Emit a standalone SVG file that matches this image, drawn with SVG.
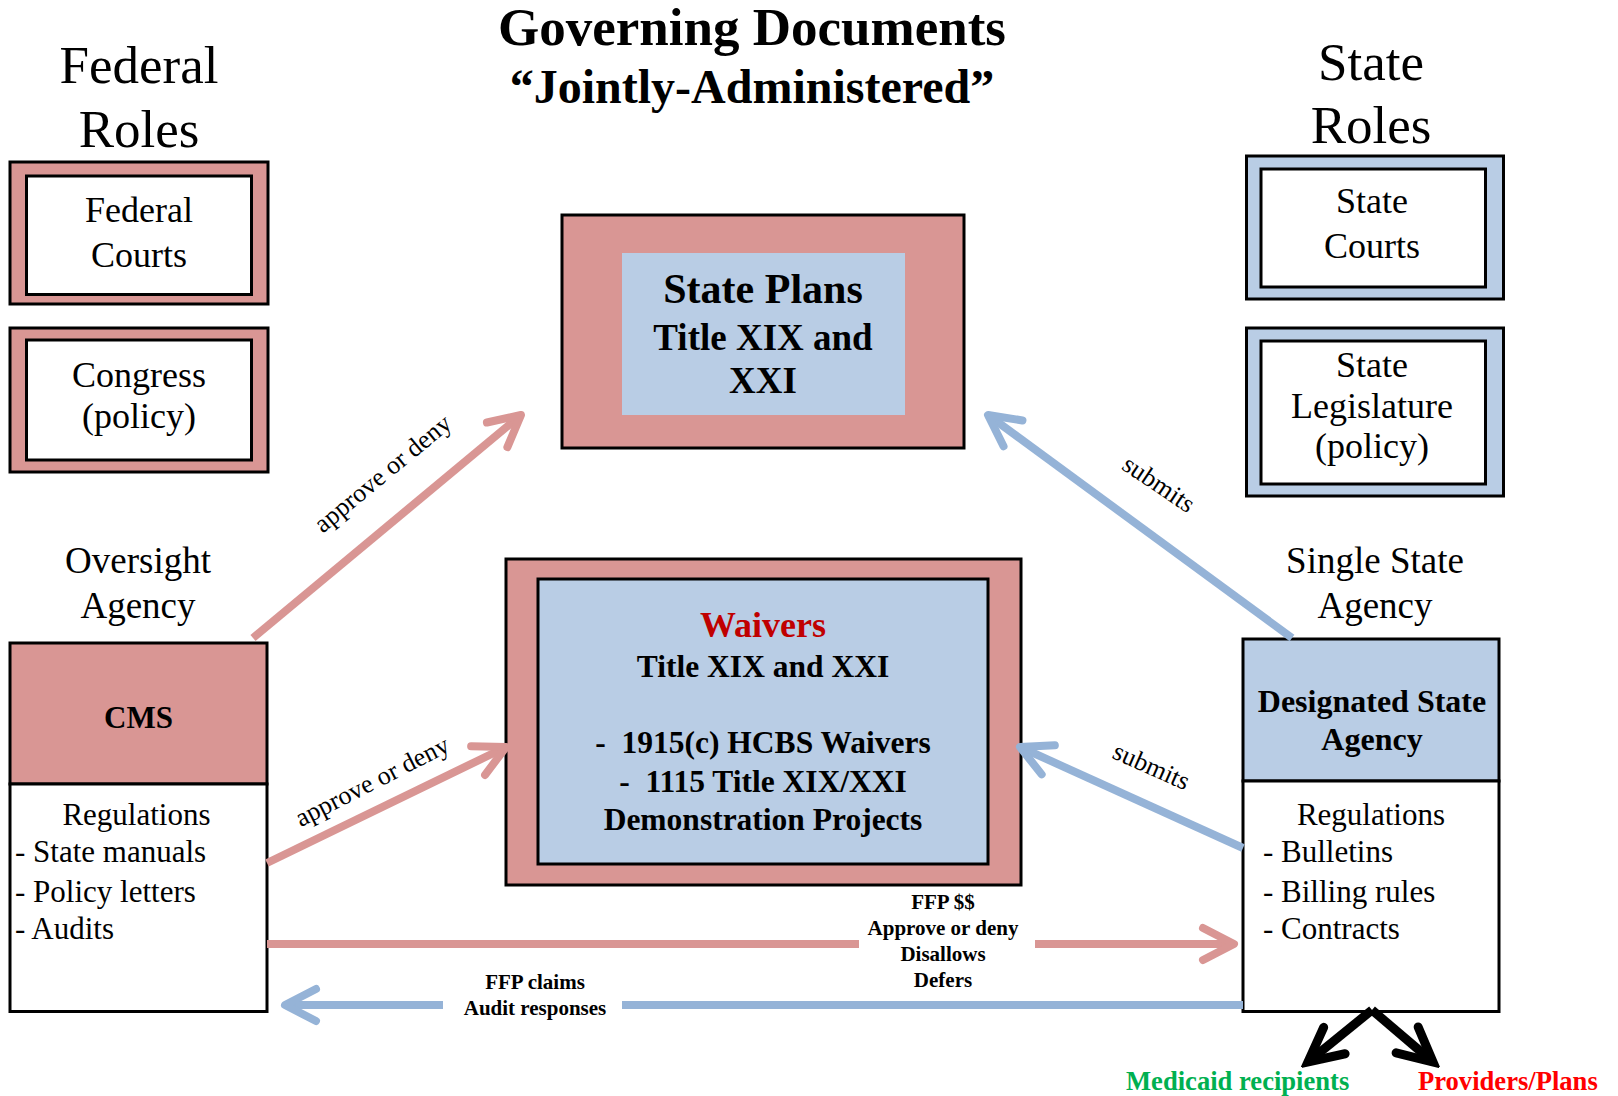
<svg xmlns="http://www.w3.org/2000/svg" width="1618" height="1096" viewBox="0 0 1618 1096">
<style>
text{font-family:"Liberation Serif","Times New Roman",serif;fill:#000}
.c{text-anchor:middle}
.b{font-weight:bold}
.role{font-size:53px}
.box{font-size:36px}
.agency{font-size:37px}
.reg{font-size:31px}
.lab{font-size:26px}
.small{font-size:21px;font-weight:bold}
.pink{fill:#D99694;stroke:#000;stroke-width:3}
.blue{fill:#B9CDE5;stroke:#000;stroke-width:3}
.white{fill:#fff;stroke:#000;stroke-width:3}
.ap{fill:none;stroke:#D99694;stroke-width:8}
.ab{fill:none;stroke:#95B3D7;stroke-width:8}
.ak{fill:none;stroke:#000;stroke-width:9}
.pre{white-space:pre}
</style>
<defs>
<marker id="mPink" viewBox="-40 -24 48 48" refX="0" refY="0" markerWidth="48" markerHeight="48" markerUnits="userSpaceOnUse" orient="auto">
<path d="M-31,-16 L0,0 L-31,16" fill="none" stroke="#D99694" stroke-width="8" stroke-linecap="round" stroke-linejoin="round"/>
</marker>
<marker id="mBlue" viewBox="-40 -24 48 48" refX="0" refY="0" markerWidth="48" markerHeight="48" markerUnits="userSpaceOnUse" orient="auto">
<path d="M-31,-16 L0,0 L-31,16" fill="none" stroke="#95B3D7" stroke-width="8" stroke-linecap="round" stroke-linejoin="round"/>
</marker>
<marker id="mBlack" viewBox="-44 -26 52 52" refX="0" refY="0" markerWidth="52" markerHeight="52" markerUnits="userSpaceOnUse" orient="auto">
<path d="M-34,-17 L0,0 L-34,17" fill="none" stroke="#000" stroke-width="9" stroke-linecap="round" stroke-linejoin="miter"/>
</marker>
</defs>
<rect x="0" y="0" width="1618" height="1096" fill="#fff"/>

<g id="title">
<text class="c b" x="752" y="45" font-size="53">Governing Documents</text>
<text class="c b" x="752" y="103" font-size="48">“Jointly-Administered”</text>
</g>

<g id="federal-roles-label">
<text class="c role" x="139" y="83">Federal</text>
<text class="c role" x="139" y="147">Roles</text>
</g>

<g id="federal-courts">
<rect class="pink" x="10" y="162" width="258" height="142"/>
<rect class="white" x="26.5" y="176" width="225" height="118.5"/>
<text class="c box" x="139" y="222">Federal</text>
<text class="c box" x="139" y="267">Courts</text>
</g>

<g id="congress">
<rect class="pink" x="10" y="328" width="258" height="144"/>
<rect class="white" x="26.5" y="340" width="225" height="120"/>
<text class="c box" x="139" y="387">Congress</text>
<text class="c box" x="139" y="428">(policy)</text>
</g>

<g id="state-roles-label">
<text class="c role" x="1371" y="80">State</text>
<text class="c role" x="1371" y="143">Roles</text>
</g>

<g id="state-courts">
<rect class="blue" x="1246.5" y="156" width="257" height="143"/>
<rect class="white" x="1261" y="169" width="224.5" height="118"/>
<text class="c box" x="1372" y="213">State</text>
<text class="c box" x="1372" y="258">Courts</text>
</g>

<g id="state-legislature">
<rect class="blue" x="1246.5" y="328" width="257" height="168"/>
<rect class="white" x="1261" y="341" width="224.5" height="143"/>
<text class="c box" x="1372" y="377">State</text>
<text class="c box" x="1372" y="418">Legislature</text>
<text class="c box" x="1372" y="458">(policy)</text>
</g>

<g id="state-plans">
<rect class="pink" x="562" y="215" width="402" height="233"/>
<rect x="622" y="253" width="283" height="162" fill="#B9CDE5"/>
<text class="c b" x="763" y="303" font-size="42">State Plans</text>
<text class="c b" x="763" y="350" font-size="37">Title XIX and</text>
<text class="c b" x="763" y="393" font-size="37">XXI</text>
</g>

<g id="oversight-label">
<text class="c agency" x="138" y="573">Oversight</text>
<text class="c agency" x="138" y="618">Agency</text>
</g>

<g id="cms">
<rect class="pink" x="10" y="643" width="257" height="141"/>
<rect class="white" x="10" y="784" width="257" height="227.5"/>
<text class="c b" x="138.5" y="728" font-size="31">CMS</text>
<text class="c reg" x="136.5" y="824.5">Regulations</text>
<text class="reg" x="15" y="862">- State manuals</text>
<text class="reg" x="15" y="901.5">- Policy letters</text>
<text class="reg" x="15" y="939">- Audits</text>
</g>

<g id="waivers">
<rect class="pink" x="506" y="559" width="515" height="326"/>
<rect class="blue" x="538" y="579" width="450" height="285"/>
<text class="c b" x="763" y="637" font-size="36" style="fill:#C00000">Waivers</text>
<text class="c b" x="763" y="677" font-size="31.5">Title XIX and XXI</text>
<text class="c b pre" x="763" y="753" font-size="31.5">-  1915(c) HCBS Waivers</text>
<text class="c b pre" x="763" y="792" font-size="31.5">-  1115 Title XIX/XXI</text>
<text class="c b" x="763" y="830" font-size="31.5">Demonstration Projects</text>
</g>

<g id="single-state-label">
<text class="c agency" x="1375" y="573">Single State</text>
<text class="c agency" x="1375" y="618">Agency</text>
</g>

<g id="designated-state-agency">
<rect class="blue" x="1243" y="639" width="256" height="142"/>
<rect class="white" x="1243" y="781" width="256" height="230.5"/>
<text class="c b" x="1372" y="712" font-size="32">Designated State</text>
<text class="c b" x="1372" y="750" font-size="32">Agency</text>
<text class="c reg" x="1371" y="824.5">Regulations</text>
<text class="reg" x="1263" y="862">- Bulletins</text>
<text class="reg" x="1263" y="901.5">- Billing rules</text>
<text class="reg" x="1263" y="939">- Contracts</text>
</g>

<g id="medicaid-recipients">
<text class="b" x="1126" y="1090" font-size="26.6" style="fill:#00B050">Medicaid recipients</text>
</g>

<g id="providers-plans">
<text class="b" x="1418" y="1090" font-size="26.6" style="fill:#FF0000">Providers/Plans</text>
</g>

<g id="connectors">
<path class="ap" d="M253,638 L521,415" marker-end="url(#mPink)"/>
<path class="ap" d="M267,863 L506,747" marker-end="url(#mPink)"/>
<path class="ab" d="M1292,638 L988,415" marker-end="url(#mBlue)"/>
<path class="ab" d="M1243,848 L1020,747" marker-end="url(#mBlue)"/>
<path class="ap" d="M267,944 L859,944"/>
<path class="ap" d="M1035,944 L1234,944" marker-end="url(#mPink)"/>
<path class="ab" d="M1243,1005 L622,1005"/>
<path class="ab" d="M443,1005 L285,1005" marker-end="url(#mBlue)"/>
<path class="ak" d="M1372,1010 L1308,1062" marker-end="url(#mBlack)"/>
<path class="ak" d="M1372,1010 L1433,1062" marker-end="url(#mBlack)"/>

<text class="c lab" transform="translate(388,480) rotate(-39.5)">approve or deny</text>
<text class="c lab" transform="translate(376,789) rotate(-27)">approve or deny</text>
<text class="c lab" transform="translate(1154,491) rotate(34)">submits</text>
<text class="c lab" transform="translate(1148,774) rotate(24)">submits</text>

<text class="c small" x="943" y="909">FFP $$</text>
<text class="c small" x="943" y="935">Approve or deny</text>
<text class="c small" x="943" y="961">Disallows</text>
<text class="c small" x="943" y="987">Defers</text>

<text class="c small" x="535" y="989">FFP claims</text>
<text class="c small" x="535" y="1015">Audit responses</text>
</g>
</svg>
